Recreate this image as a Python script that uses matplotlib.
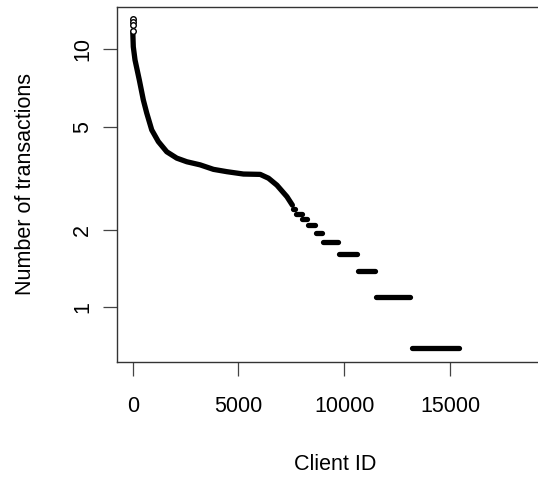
import numpy as np
import matplotlib
matplotlib.use("Agg")
import matplotlib.pyplot as plt
from matplotlib.ticker import FixedLocator, NullLocator

plt.rcParams['font.family'] = ['Liberation Sans', 'DejaVu Sans']

## data ###################################################################

# biggest clients, drawn as single open points
top_rank = [1, 2, 3, 4]
top_value = [13.07, 12.72, 12.39, 11.74]

# dense part of the sorted curve (rank, log of transaction count)
curve_rank = [6, 28, 109, 312, 502, 663, 900, 1212, 1610, 2083, 2557, 3187,
              3816, 4451, 5237, 6027, 6420, 6818, 7292, 7550]
curve_value = [11.5, 10.2, 9.07, 7.59, 6.35, 5.65, 4.86, 4.38, 4.00, 3.78,
               3.66, 3.56, 3.42, 3.35, 3.28, 3.27, 3.16, 2.97, 2.68, 2.485]

# tail: clients sharing the same count form flat runs
level_count = [11, 10, 9, 8, 7, 6, 5, 4, 3, 2]
level_start = [7560, 7700, 7990, 8280, 8660, 8980, 9770, 10670, 11510, 13200]
level_end = [7690, 7980, 8250, 8620, 8940, 9700, 10600, 11440, 13090, 15430]

ytick_values = [1, 2, 5, 10]
xtick_values = [0, 5000, 10000, 15000]

## plot ###################################################################

W, H = 538, 478
fig = plt.figure(figsize=(W / 100, H / 100), dpi=100)
left, right, top, bottom = 116.5, 553.9, 7, 361.7
ax = fig.add_axes([left / W, 1 - bottom / H, (right - left) / W, (bottom - top) / H])

ax.set_yscale('log')
ax.set_xlim(-766, 19912)
ax.set_ylim(0.6157, 14.54)

lw = 3.8
ax.plot(curve_rank, curve_value, color='black', lw=lw,
        solid_capstyle='round', solid_joinstyle='round')
for k, s, e in zip(level_count, level_start, level_end):
    ax.plot([s, e], [np.log(k), np.log(k)], color='black', lw=lw,
            solid_capstyle='round')
ax.plot(top_rank, top_value, 'o', mfc='white', mec='black', ms=4, mew=1.0)

ax.yaxis.set_major_locator(FixedLocator(ytick_values))
ax.yaxis.set_minor_locator(NullLocator())
ax.set_yticklabels([str(v) for v in ytick_values], rotation=90, va='center')
ax.set_xticks(xtick_values)
ax.set_xticklabels([str(v) for v in xtick_values])

for sp in ax.spines.values():
    sp.set_color('#333333')
    sp.set_linewidth(1.0)
ax.tick_params(axis='both', length=10, width=0.9, color='#444444',
               labelsize=15.5, colors='black')
ax.tick_params(axis='x', pad=15)
ax.tick_params(axis='y', pad=7)

ax.set_xlabel('Client ID', fontsize=15.5, labelpad=26)
ax.set_ylabel('Number of transactions', fontsize=15.5, labelpad=26)

fig.savefig('out.png', dpi=100)
